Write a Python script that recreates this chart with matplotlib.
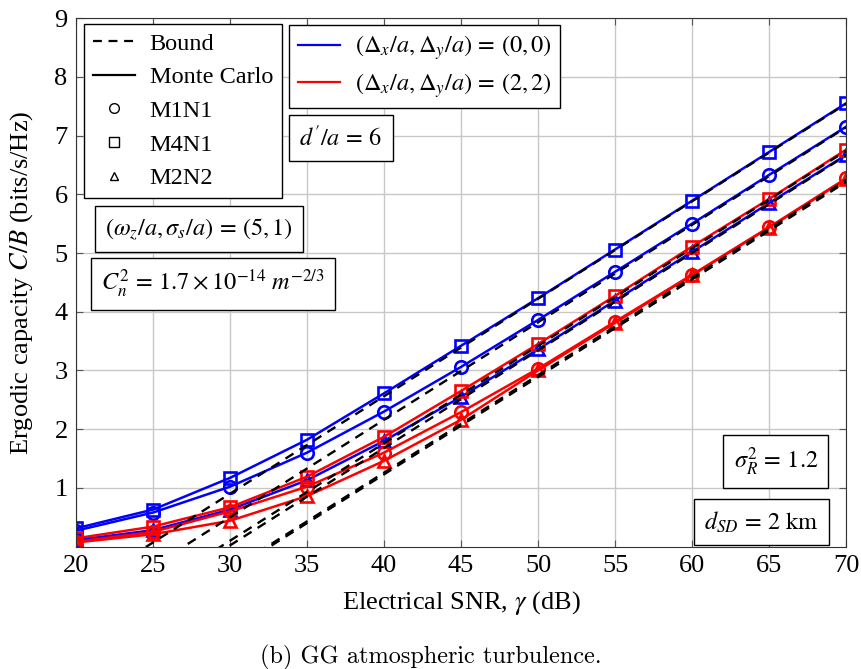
import matplotlib
matplotlib.use('Agg')
import matplotlib.pyplot as plt
from matplotlib.lines import Line2D

plt.rcParams['font.family'] = 'Liberation Serif'
plt.rcParams['mathtext.fontset'] = 'stix'

# SNR points (dB)
snr = [20, 25, 30, 35, 40, 45, 50, 55, 60, 65, 70]

# Monte Carlo, (dx/a, dy/a) = (0,0)
mc_m1n1_00 = [0.27, 0.58, 1.02, 1.60, 2.30, 3.06, 3.86, 4.68, 5.50, 6.33, 7.15]
mc_m4n1_00 = [0.31, 0.63, 1.17, 1.82, 2.61, 3.42, 4.23, 5.06, 5.89, 6.72, 7.55]
mc_m2n2_00 = [0.11, 0.28, 0.63, 1.13, 1.80, 2.55, 3.36, 4.19, 5.02, 5.85, 6.67]

# Monte Carlo, (dx/a, dy/a) = (2,2)
mc_m1n1_22 = [0.08, 0.25, 0.60, 1.02, 1.60, 2.29, 3.03, 3.83, 4.63, 5.44, 6.27]
mc_m4n1_22 = [0.14, 0.34, 0.67, 1.19, 1.87, 2.65, 3.45, 4.27, 5.11, 5.92, 6.76]
mc_m2n2_22 = [0.07, 0.21, 0.44, 0.86, 1.46, 2.16, 3.00, 3.81, 4.62, 5.43, 6.26]

# Bounds (values below 0 fall outside the axes)
bd_m1n1_00 = [-1.16, -0.33, 0.50, 1.33, 2.16, 2.99, 3.82, 4.65, 5.48, 6.31, 7.14]
bd_m4n1_00 = [-0.76, 0.07, 0.90, 1.73, 2.56, 3.39, 4.22, 5.05, 5.88, 6.71, 7.54]
bd_m2n2_00 = [-1.64, -0.81, 0.02, 0.85, 1.68, 2.51, 3.34, 4.17, 5.00, 5.83, 6.66]
bd_m1n1_22 = [-2.06, -1.23, -0.40, 0.43, 1.26, 2.09, 2.92, 3.75, 4.58, 5.41, 6.24]
bd_m4n1_22 = [-1.56, -0.73, 0.10, 0.93, 1.76, 2.59, 3.42, 4.25, 5.08, 5.91, 6.74]
bd_m2n2_22 = [-2.09, -1.26, -0.43, 0.40, 1.23, 2.06, 2.89, 3.72, 4.55, 5.38, 6.21]

fig = plt.figure(figsize=(8.61, 6.69), dpi=100)
ax = fig.add_axes([0.0883, 0.183, 0.8943, 0.7898])

mk = dict(markersize=9, markerfacecolor='none', markeredgewidth=1.9, linewidth=1.8)
ax.plot(snr, mc_m4n1_00, 's-', color='blue', **mk)
ax.plot(snr, mc_m1n1_00, 'o-', color='blue', **mk)
ax.plot(snr, mc_m2n2_00, '^-', color='blue', **mk)
ax.plot(snr, mc_m4n1_22, 's-', color='red', **mk)
ax.plot(snr, mc_m1n1_22, 'o-', color='red', **mk)
ax.plot(snr, mc_m2n2_22, '^-', color='red', **mk)

for b in [bd_m1n1_00, bd_m4n1_00, bd_m2n2_00, bd_m1n1_22, bd_m4n1_22, bd_m2n2_22]:
    ax.plot(snr, b, '--', color='black', linewidth=1.7, dashes=(4, 3))

ax.set_xlim(20, 70)
ax.set_ylim(0, 9)
ax.set_xticks(range(20, 71, 5))
ax.set_yticks(range(1, 10))
ax.grid(True, color='#c8c8c8', linewidth=1)
ax.tick_params(direction='in', top=True, right=True, labelsize=19, length=5, color='#555555', pad=6)
for s in ax.spines.values():
    s.set_color('#333333')

ax.set_xlabel(r'Electrical SNR, $\gamma$ (dB)', fontsize=19, labelpad=9)
ax.set_ylabel(r'Ergodic capacity $C/B$ (bits/s/Hz)', fontsize=19, labelpad=14)

# legend 1: line styles and markers
h1 = [Line2D([], [], color='black', linestyle='--', dashes=(4, 3), lw=1.6),
      Line2D([], [], color='black', linestyle='-', lw=1.6),
      Line2D([], [], color='black', linestyle='none', marker='o', markerfacecolor='none', markersize=7),
      Line2D([], [], color='black', linestyle='none', marker='s', markerfacecolor='none', markersize=7),
      Line2D([], [], color='black', linestyle='none', marker='^', markerfacecolor='none', markersize=6)]
l1 = ax.legend(h1, ['Bound', 'Monte Carlo', 'M1N1', 'M4N1', 'M2N2'],
               loc='upper left', bbox_to_anchor=(0.0104, 0.989), fontsize=17.5,
               fancybox=False, edgecolor='black', framealpha=1, handlelength=1.75,
               borderpad=0.35, labelspacing=0.48, handletextpad=0.6, borderaxespad=0)
l1.get_frame().set_linewidth(1)
ax.add_artist(l1)

h2 = [Line2D([], [], color='blue', lw=1.6), Line2D([], [], color='red', lw=1.6)]
l2 = ax.legend(h2, [r'$(\Delta_x/a,\Delta_y/a)\,=\,(0,0)$', r'$(\Delta_x/a,\Delta_y/a)\,=\,(2,2)$'],
               loc='upper left', bbox_to_anchor=(0.2766, 0.987), fontsize=17.5,
               fancybox=False, edgecolor='black', framealpha=1, handlelength=1.75,
               borderpad=0.35, labelspacing=0.35, handletextpad=0.6, borderaxespad=0)
l2.get_frame().set_linewidth(1)

box = dict(boxstyle='square,pad=0.42', facecolor='white', edgecolor='black', linewidth=1)
fs = 17.5
ax.text(0.344, 0.7725, r"$d^{\prime}/a\,=\,6$", transform=ax.transAxes, ha='center', va='center', fontsize=fs, bbox=box)
ax.text(0.160, 0.601, r'$(\omega_z/a,\sigma_s/a)\,=\,(5,1)$', transform=ax.transAxes, ha='center', va='center', fontsize=fs, bbox=box)
ax.text(0.178, 0.497, r'$C_n^2\,=\,1.7\times10^{-14}\ m^{-2/3}$', transform=ax.transAxes, ha='center', va='center', fontsize=fs, bbox=box)
ax.text(0.909, 0.161, r'$\sigma_R^2\,=\,1.2$', transform=ax.transAxes, ha='center', va='center', fontsize=fs, bbox=box)
ax.text(0.890, 0.0466, r'$d_{SD}\,=\,2\ \mathrm{km}$', transform=ax.transAxes, ha='center', va='center', fontsize=fs, bbox=box)

fig.text(0.5, 0.018, '(b) GG atmospheric turbulence.', ha='center', va='center', fontsize=17.5, family='cmr10')

fig.savefig('out.png', dpi=100)
